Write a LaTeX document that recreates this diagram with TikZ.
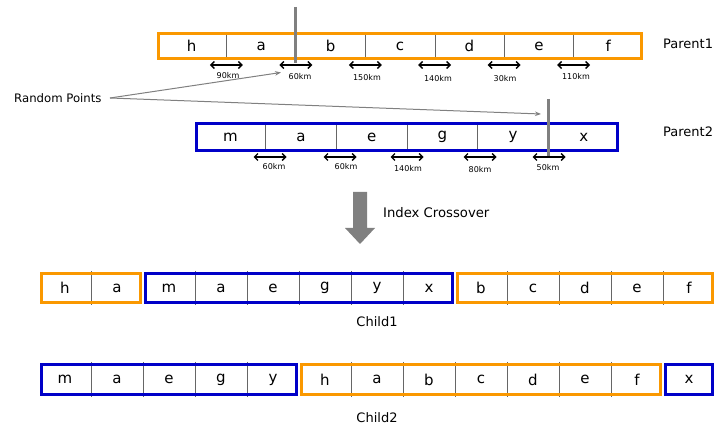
\documentclass[tikz,border=0pt]{standalone}
\usepackage{fontspec}
\setmainfont{DejaVu Sans}
\usetikzlibrary{arrows.meta,calc}
\definecolor{porange}{RGB}{250,152,0}
\definecolor{pblue}{RGB}{0,0,200}
\definecolor{pgray}{RGB}{128,128,128}
\begin{document}
\begin{tikzpicture}[x=1pt,y=-1pt,
  cellbox/.style={inner sep=0pt, font=\fontsize{15}{18}\selectfont},
  sepline/.style={draw=black!60, line width=0.8pt},
  obox/.style={draw=porange, line width=3.2pt},
  bbox/.style={draw=pblue, line width=3.2pt},
  dimarrow/.style={{Straight Barb[length=3.5pt,width=7pt]}-{Straight Barb[length=3.5pt,width=7pt]}, line width=1.4pt, black},
  kmlabel/.style={font=\fontsize{8}{9}\selectfont, inner sep=0pt},
  biglabel/.style={font=\fontsize{13}{15}\selectfont, inner sep=0pt},
  cutline/.style={draw=pgray, line width=3pt},
  pointer/.style={draw=pgray, line width=1pt, -{Stealth[length=6pt,width=4.5pt]}}
]
\useasboundingbox (0,0) rectangle (716,433);

% ---------- Parent1 ----------
\foreach \t [count=\i from 0] in {h,a,b,c,d,e,f}
  \node[cellbox, minimum width=69.43pt, minimum height=28pt] (pa\i) at ({157+69.43*(\i+0.5)},46) {\t};
\foreach \i in {0,...,5} \draw[sepline] (pa\i.north east) -- (pa\i.south east);
\draw[obox] ($(pa0.north west)+(1.6,1.6)$) rectangle ($(pa6.south east)+(-1.6,-1.6)$);
\node[biglabel, anchor=west] (lp1) at (663,44) {Parent1};

% ---------- Parent2 ----------
\foreach \t [count=\i from 0] in {m,a,e,g,y,x}
  \node[cellbox, minimum width=70.67pt, minimum height=30pt] (pb\i) at ({195+70.67*(\i+0.5)},137) {\t};
\foreach \i in {0,...,4} \draw[sepline] (pb\i.north east) -- (pb\i.south east);
\draw[bbox] ($(pb0.north west)+(1.6,1.6)$) rectangle ($(pb5.south east)+(-1.6,-1.6)$);
\node[biglabel, anchor=west] (lp2) at (663,132) {Parent2};

% cut lines
\coordinate (ka1) at (295,7);   \coordinate (ka2) at (295,63);
\coordinate (kb1) at (548,99);  \coordinate (kb2) at (548,157);
\draw[cutline] (ka1) -- (ka2);
\draw[cutline] (kb1) -- (kb2);

% distance arrows Parent1
\foreach \cx/\lx/\ly/\lab in {226.4/228/76/90km, 295.9/300/77/60km, 365.3/367/78/150km, 434.7/438/79/140km, 504.1/505/79/30km, 573.6/576/77/110km}{
  \draw[dimarrow] ({\cx-16.5},65) -- ({\cx+16.5},65);
  \node[kmlabel] at (\lx,\ly) {\lab};
}
% distance arrows Parent2
\foreach \cx/\lx/\ly/\lab in {270/274/167/60km, 340/346/167/60km, 407/408/169/140km, 480/480/170/80km, 549/548/168/50km}{
  \draw[dimarrow] ({\cx-16.5},157) -- ({\cx+16.5},157);
  \node[kmlabel] at (\lx,\ly) {\lab};
}

% Random points
\node[font=\fontsize{11.7}{13}\selectfont, inner sep=0pt, anchor=west] (rp) at (14,98) {Random Points};
\coordinate (rpo) at (110,98);
\coordinate (rt1) at (281,72.5);
\coordinate (rt2) at (541,114);
\draw[pointer] (rpo) -- (rt1);
\draw[pointer] (rpo) -- (rt2);

% Big arrow
\fill[pgray] (353,192) -- (367,192) -- (367,228) -- (375,228) -- (360,244) -- (345,228) -- (353,228) -- cycle;
\node[font=\fontsize{13.2}{15}\selectfont, inner sep=0pt, anchor=west] (ic) at (383,213) {Index Crossover};

% ---------- Child1 ----------
\foreach \t [count=\i from 0] in {h,a,m,a,e,g,y,x,b,c,d,e,f}
  \node[cellbox, minimum width=52pt, minimum height=33pt] (ca\i) at ({39+52*(\i+0.5)},288) {\t};
\foreach \i in {0,2,3,4,5,6,8,9,10,11} \draw[sepline] (ca\i.north east) -- (ca\i.south east);
\draw[obox] ($(ca0.north west)+(2.5,2.5)$) rectangle ($(ca1.south east)+(-2.5,-2.5)$);
\draw[bbox] ($(ca2.north west)+(2.5,2.5)$) rectangle ($(ca7.south east)+(-2.5,-2.5)$);
\draw[obox] ($(ca8.north west)+(2.5,2.5)$) rectangle ($(ca12.south east)+(-2.5,-2.5)$);
\node[biglabel] (lc1) at (377,322) {Child1};

% ---------- Child2 ----------
\foreach \t [count=\i from 0] in {m,a,e,g,y,h,a,b,c,d,e,f,x}
  \node[cellbox, minimum width=52pt, minimum height=35pt] (cb\i) at ({39+52*(\i+0.5)},379.5) {\t};
\foreach \i in {0,1,2,3,5,6,7,8,9,10} \draw[sepline] (cb\i.north east) -- (cb\i.south east);
\draw[bbox] ($(cb0.north west)+(2.5,2.5)$) rectangle ($(cb4.south east)+(-2.5,-2.5)$);
\draw[obox] ($(cb5.north west)+(2.5,2.5)$) rectangle ($(cb11.south east)+(-2.5,-2.5)$);
\draw[bbox] ($(cb12.north west)+(2.5,2.5)$) rectangle ($(cb12.south east)+(-2.5,-2.5)$);
\node[biglabel] (lc2) at (377,418) {Child2};
\end{tikzpicture}
\end{document}
